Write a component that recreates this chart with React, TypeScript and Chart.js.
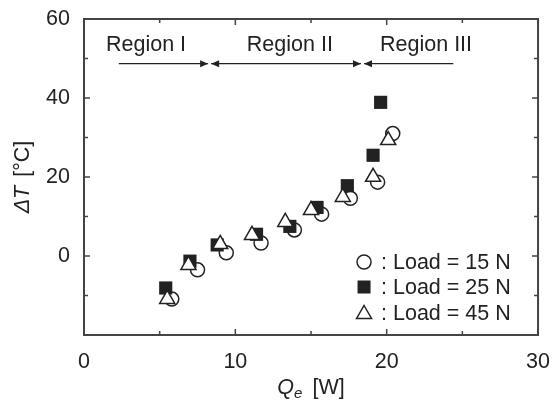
import React, { useEffect, useRef } from "react";
import { Chart, registerables } from "chart.js";

Chart.register(...registerables);

// ---- Data ----
const load15X = [5.8, 7.5, 9.4, 11.7, 13.9, 15.7, 17.6, 19.4, 20.4];
const load15Y = [-10.9, -3.5, 0.8, 3.3, 6.6, 10.6, 14.6, 18.7, 31.0];
const load25X = [5.4, 7.0, 8.8, 11.4, 13.6, 15.4, 17.4, 19.1, 19.6];
const load25Y = [-8.1, -1.3, 2.8, 5.5, 7.5, 12.3, 17.8, 25.5, 38.9];
const load45X = [5.5, 6.9, 9.0, 11.1, 13.3, 15.0, 17.1, 19.1, 20.1];
const load45Y = [-10.9, -2.3, 3.0, 5.3, 8.6, 11.6, 14.9, 20.0, 29.3];

const seriesLabels = [": Load = 15 N", ": Load = 25 N", ": Load = 45 N"];

const xTickValues = [0, 10, 20, 30];
const yTickValues = [-20, 0, 20, 40, 60];
const yTickLabels = ["", "0", "20", "40", "60"];

const regionLabels = ["Region I", "Region II", "Region III"];
const regionLabelX = [4.1, 13.6, 22.6];
const regionLabelY = 53.4;
const regionBounds = [2.3, 8.3, 18.4, 24.4];
const regionArrowY = 48.7;

const xTitleMain = "Q";
const xTitleSub = "e";
const xTitleUnit = "[W]";
const yTitleMain = "ΔT";
const yTitleUnit = "[°C]";

const FONT = "'Liberation Sans', Arial, sans-serif";
const FS = 21.5;
const INK = "#222";
const AXIS = "#444";

function toPts(xs: number[], ys: number[]) {
  return xs.map((x, i) => ({ x, y: ys[i] }));
}

const decorPlugin = {
  id: "decor",
  afterDraw(chart: any) {
    const ctx = chart.ctx as CanvasRenderingContext2D;
    const ca = chart.chartArea;
    const xs = chart.scales.x;
    const ys = chart.scales.y;
    ctx.save();

    // frame
    ctx.strokeStyle = AXIS;
    ctx.lineWidth = 2;
    ctx.strokeRect(ca.left, ca.top, ca.right - ca.left, ca.bottom - ca.top);

    // inward ticks
    ctx.lineWidth = 1.5;
    ctx.beginPath();
    for (let v = 0; v <= 30; v += 5) {
      const px = xs.getPixelForValue(v);
      const len = v % 10 === 0 ? 6 : 4;
      ctx.moveTo(px, ca.bottom);
      ctx.lineTo(px, ca.bottom - len);
      ctx.moveTo(px, ca.top);
      ctx.lineTo(px, ca.top + len);
    }
    for (let v = -20; v <= 60; v += 10) {
      const py = ys.getPixelForValue(v);
      const len = v % 20 === 0 ? 6 : 4;
      ctx.moveTo(ca.left, py);
      ctx.lineTo(ca.left + len, py);
      ctx.moveTo(ca.right, py);
      ctx.lineTo(ca.right - len, py);
    }
    ctx.stroke();

    // region arrows
    ctx.strokeStyle = INK;
    ctx.fillStyle = INK;
    ctx.lineWidth = 1.3;
    const ay = ys.getPixelForValue(regionArrowY);
    const bx = regionBounds.map((b) => xs.getPixelForValue(b));
    const gap = 1.5;
    const head = (tipX: number, dir: number) => {
      ctx.beginPath();
      ctx.moveTo(tipX, ay);
      ctx.lineTo(tipX - dir * 8, ay - 3.5);
      ctx.lineTo(tipX - dir * 8, ay + 3.5);
      ctx.closePath();
      ctx.fill();
    };
    ctx.beginPath();
    ctx.moveTo(bx[0], ay);
    ctx.lineTo(bx[1] - gap, ay);
    ctx.moveTo(bx[1] + gap, ay);
    ctx.lineTo(bx[2] - gap, ay);
    ctx.moveTo(bx[2] + gap, ay);
    ctx.lineTo(bx[3], ay);
    ctx.stroke();
    head(bx[1] - gap, 1);
    head(bx[1] + gap, -1);
    head(bx[2] - gap, 1);
    head(bx[2] + gap, -1);

    ctx.font = `${FS}px ${FONT}`;
    ctx.textAlign = "center";
    ctx.textBaseline = "middle";
    regionLabels.forEach((t, i) => {
      ctx.fillText(t, xs.getPixelForValue(regionLabelX[i]), ys.getPixelForValue(regionLabelY));
    });

    // legend
    const lx = ca.right - 174;
    const tx = ca.right - 157;
    const rows = [ca.bottom - 73, ca.bottom - 48, ca.bottom - 22];
    ctx.lineWidth = 1.5;
    ctx.beginPath();
    ctx.arc(lx, rows[0], 7, 0, Math.PI * 2);
    ctx.fillStyle = "#fff";
    ctx.fill();
    ctx.stroke();
    ctx.fillStyle = INK;
    ctx.fillRect(lx - 6.5, rows[1] - 6.5, 13, 13);
    ctx.beginPath();
    ctx.moveTo(lx, rows[2] - 7.5);
    ctx.lineTo(lx + 7.5, rows[2] + 5.5);
    ctx.lineTo(lx - 7.5, rows[2] + 5.5);
    ctx.closePath();
    ctx.fillStyle = "#fff";
    ctx.fill();
    ctx.stroke();
    ctx.fillStyle = INK;
    ctx.textAlign = "left";
    seriesLabels.forEach((t, i) => ctx.fillText(t, tx, rows[i] + 1));

    // x title
    const cx = (ca.left + ca.right) / 2;
    const ty = ca.bottom + 52;
    ctx.font = `italic ${FS}px ${FONT}`;
    const wQ = ctx.measureText(xTitleMain).width;
    ctx.font = `italic 15px ${FONT}`;
    const wE = ctx.measureText(xTitleSub).width;
    ctx.font = `${FS}px ${FONT}`;
    const wU = ctx.measureText(xTitleUnit).width;
    const spacer = 10;
    let x0 = cx - (wQ + wE + spacer + wU) / 2;
    ctx.textAlign = "left";
    ctx.textBaseline = "alphabetic";
    ctx.font = `italic ${FS}px ${FONT}`;
    ctx.fillText(xTitleMain, x0, ty + 7);
    x0 += wQ;
    ctx.font = `italic 15px ${FONT}`;
    ctx.fillText(xTitleSub, x0, ty + 11);
    x0 += wE + spacer;
    ctx.font = `${FS}px ${FONT}`;
    ctx.fillText(xTitleUnit, x0, ty + 7);

    // y title (rotated)
    ctx.save();
    ctx.translate(ca.left - 61, (ca.top + ca.bottom) / 2);
    ctx.rotate(-Math.PI / 2);
    ctx.font = `italic ${FS}px ${FONT}`;
    const wD = ctx.measureText(yTitleMain).width;
    ctx.font = `${FS}px ${FONT}`;
    const wC = ctx.measureText(yTitleUnit).width;
    const sp2 = 9;
    let y0 = -(wD + sp2 + wC) / 2;
    ctx.textBaseline = "middle";
    ctx.font = `italic ${FS}px ${FONT}`;
    ctx.fillText(yTitleMain, y0, 0);
    y0 += wD + sp2;
    ctx.font = `${FS}px ${FONT}`;
    ctx.fillText(yTitleUnit, y0, 0);
    ctx.restore();

    ctx.restore();
  },
};

export default function App() {
  const ref = useRef<HTMLCanvasElement | null>(null);

  useEffect(() => {
    if (!ref.current) return;
    Chart.defaults.font.family = FONT;
    const chart = new Chart(ref.current, {
      type: "scatter",
      data: {
        datasets: [
          {
            label: seriesLabels[0],
            data: toPts(load15X, load15Y),
            pointStyle: "circle",
            pointRadius: 7,
            pointBorderWidth: 1.5,
            pointBackgroundColor: "#fff",
            pointBorderColor: INK,
            order: 2,
          },
          {
            label: seriesLabels[1],
            data: toPts(load25X, load25Y),
            pointStyle: "rect",
            pointRadius: 9.3,
            pointBorderWidth: 0,
            pointBackgroundColor: INK,
            pointBorderColor: INK,
            order: 1,
          },
          {
            label: seriesLabels[2],
            data: toPts(load45X, load45Y),
            pointStyle: "triangle",
            pointRadius: 8.7,
            pointBorderWidth: 1.5,
            pointBackgroundColor: "#fff",
            pointBorderColor: INK,
            order: 0,
          },
        ],
      },
      options: {
        responsive: false,
        animation: false,
        events: [],
        layout: { padding: { top: 19, right: 14, left: 0, bottom: 0 } },
        plugins: {
          legend: { display: false },
          tooltip: { enabled: false },
          title: { display: false },
        },
        scales: {
          x: {
            type: "linear",
            min: 0,
            max: 30,
            grid: { display: false },
            border: { display: false },
            afterFit: (s: any) => {
              s.height = 65;
            },
            afterBuildTicks: (s: any) => {
              s.ticks = xTickValues.map((v) => ({ value: v }));
            },
            ticks: {
              color: INK,
              font: { size: FS, family: FONT },
              padding: 6,
              maxRotation: 0,
              callback: (v: any) => String(v),
            },
          },
          y: {
            type: "linear",
            min: -20,
            max: 60,
            grid: { display: false },
            border: { display: false },
            afterFit: (s: any) => {
              s.width = 84;
            },
            afterBuildTicks: (s: any) => {
              s.ticks = yTickValues.map((v) => ({ value: v }));
            },
            ticks: {
              color: INK,
              font: { size: FS, family: FONT },
              padding: 6,
              callback: (v: any) => {
                const i = yTickValues.indexOf(Number(v));
                return i >= 0 ? yTickLabels[i] : "";
              },
            },
          },
        },
      },
      plugins: [decorPlugin],
    });
    return () => chart.destroy();
  }, []);

  return (
    <div style={{ position: "absolute", left: 0, top: 0, width: 556, height: 400, background: "#fff" }}>
      <canvas ref={ref} width={556} height={400} style={{ display: "block" }} />
    </div>
  );
}
